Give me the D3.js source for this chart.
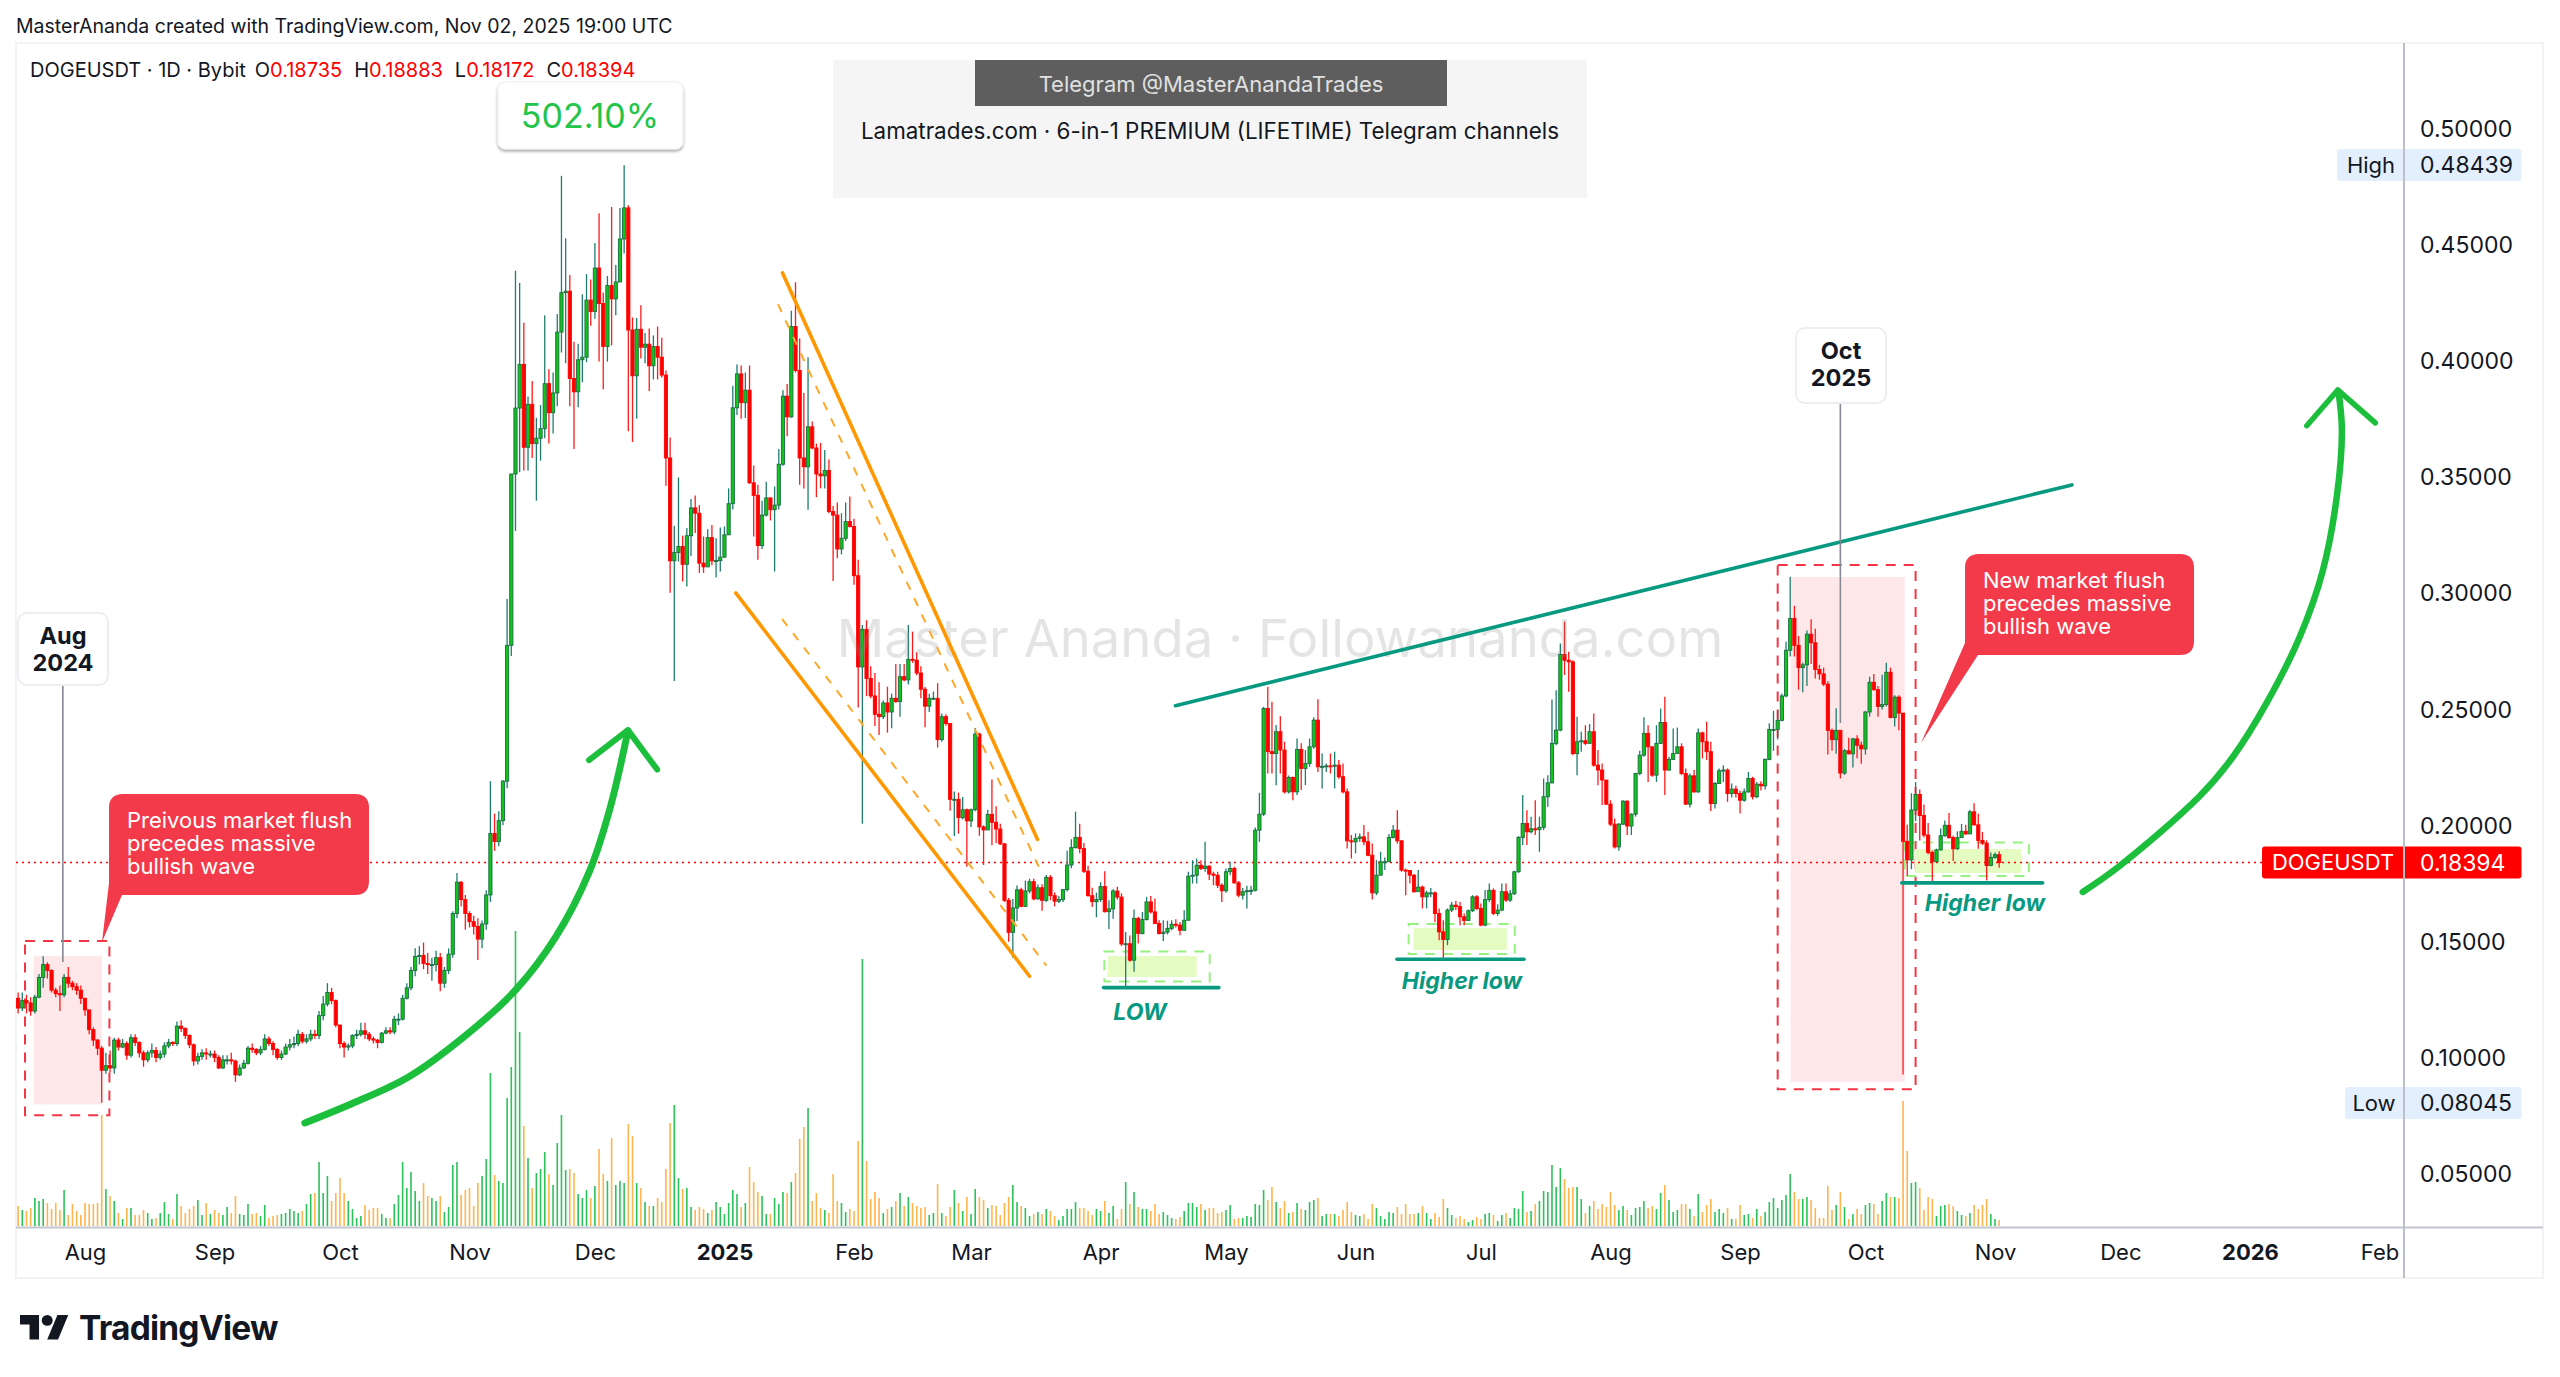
<!DOCTYPE html>
<html>
<head>
<meta charset="utf-8">
<title>DOGEUSDT</title>
<script src="https://cdnjs.cloudflare.com/ajax/libs/d3/7.9.0/d3.min.js"></script>
<style>
  html, body { margin: 0; padding: 0; background: #fff; }
  svg { display: block; }
  text { font-family: Inter, "Noto Sans", sans-serif; }
</style>
</head>
<body>
<div id="chart"></div>
<script>
// daily candles, one row per month, first candle is 2024-07-16
const firstDate = "2024-07-16";
const firstOpen = 0.1255;

const closes = [
  .1213,.1245,.1235,.1200,.1260,.1345,.1400,.1375,.1290,.1275,.1270,.1345,.1320,.1305,.1290,.1255,
  .1205,.1120,.1075,.1040,.0945,.0965,.0955,.1075,.1045,.1060,.1010,.1085,.1065,.1020,.0990,.1020,.1030,.1000,.1015,.1050,.1065,.1060,.1135,.1125,.1095,.1055,.0985,.1005,.1020,.1015,.1015,
  .1000,.0955,.0990,.0990,.0985,.0925,.0955,.0975,.1040,.1035,.1020,.1035,.1080,.1060,.1035,.1000,.1015,.1045,.1055,.1060,.1100,.1070,.1080,.1100,.1095,.1180,.1230,.1280,.1245,.1140,
  .1060,.1045,.1050,.1095,.1100,.1115,.1100,.1080,.1075,.1065,.1105,.1115,.1110,.1165,.1165,.1255,.1300,.1375,.1435,.1440,.1405,.1400,.1400,.1430,.1320,.1375,.1445,.1620,.1755,.1680,.1620,
  .1585,.1565,.1510,.1575,.1700,.1965,.1930,.2020,.2190,.2775,.3513,.3797,.3985,.3628,.3813,.3644,.3667,.3708,.3902,.3777,.3862,.4124,.4294,.4300,.3924,.3867,.4005,.4016,.4262,.4213,
  .4400,.4247,.4062,.4325,.4267,.4340,.4525,.4659,.4133,.3936,.4136,.4059,.4072,.3979,.4062,.4016,.3939,.3582,.3139,.3175,.3201,.3124,.3247,.3367,.3344,.3129,.3113,.3239,.3139,.3140,.3155,
  .3251,.3385,.3798,.3944,.3820,.3874,.3475,.3421,.3205,.3336,.3410,.3359,.3379,.3555,.3848,.3759,.4148,.3959,.3582,.3544,.3716,.3625,.3513,.3505,.3528,.3351,.3336,.3190,.3236,.3308,.3287,
  .3075,.2682,.2844,.2632,.2557,.2478,.2468,.2527,.2488,.2547,.2533,.2640,.2626,.2715,.2711,.2656,.2586,.2513,.2547,.2547,.2369,.2468,.2438,.2112,.2112,.2033,.2067,.2019,
  .2067,.2393,.1993,.1980,.2047,.2013,.1984,.1920,.1677,.1539,.1644,.1722,.1651,.1717,.1757,.1683,.1731,.1677,.1776,.1697,.1673,.1680,.1723,.1829,.1904,.1948,.1900,.1802,.1697,.1671,.1680,
  .1736,.1628,.1640,.1717,.1691,.1489,.1490,.1419,.1599,.1534,.1594,.1670,.1627,.1577,.1534,.1540,.1556,.1574,.1570,.1548,.1591,.1781,.1785,.1828,.1814,.1824,.1790,.1785,.1742,.1718,
  .1800,.1814,.1752,.1699,.1714,.1718,.1720,.1979,.2048,.2503,.2317,.2309,.2403,.2324,.2144,.2206,.2144,.2327,.2245,.2266,.2338,.2453,.2252,.2254,.2256,.2255,.2259,.2209,.2144,.1933,.1929,
  .1943,.1950,.1929,.1871,.1709,.1785,.1843,.1843,.1948,.1979,.1933,.1807,.1805,.1785,.1714,.1734,.1692,.1709,.1709,.1620,.1541,.1508,.1635,.1656,.1650,.1606,.1590,.1632,.1692,.1642,
  .1570,.1680,.1720,.1620,.1635,.1714,.1678,.1705,.1800,.1948,.2008,.1972,.1985,.1982,.1991,.2123,.2183,.2353,.2410,.2736,.2711,.2704,.2309,.2360,.2364,.2353,.2403,.2259,.2238,.2195,.2091,
  .2005,.1907,.2005,.2104,.1997,.2048,.2223,.2302,.2396,.2338,.2216,.2353,.2443,.2238,.2284,.2309,.2338,.2223,.2091,.2213,.2144,.2398,.2360,.2317,.2094,.2180,.2235,.2238,.2137,.2156,.2137,
  .2108,.2144,.2202,.2123,.2177,.2170,.2284,.2413,.2413,.2452,.2557,.2754,.2891,.2775,.2679,.2691,.2823,.2786,.2671,.2652,.2608,.2409,.2369,.2409,.2225,.2321,.2308,.2372,.2345,.2329,
  .2488,.2616,.2584,.2512,.2520,.2659,.2464,.2552,.2483,.1931,.1851,.2066,.2133,.2042,.1958,.1883,.1843,.1894,.1955,.2000,.1947,.1899,.1947,.1974,.1963,.2058,.2002,.1935,.1923,.1827,.1862,
  .18735,.18394
];

const highs = [
  .128,.128,.127,.126,.127,.136,.1436,.141,.138,.130,.131,.136,.139,.133,.132,.131,
  .125,.120,.113,.108,.105,.102,.103,.1085,.1085,.108,.107,.110,.110,.107,.103,.103,.106,.1045,.103,.1065,.108,.107,.1155,.116,.113,.110,.106,.102,.1035,.104,.103,
  .103,.101,.101,.101,.102,.099,.097,.099,.105,.106,.104,.105,.110,.109,.107,.104,.103,.106,.108,.109,.112,.111,.110,.112,.112,.120,.1265,.132,.130,.125,
  .114,.107,.106,.110,.112,.115,.115,.111,.109,.108,.111,.113,.113,.118,.119,.127,.132,.139,.147,.148,.1495,.145,.143,.146,.145,.139,.147,.163,.1795,.176,.170,
  .163,.161,.160,.159,.172,.219,.205,.206,.2195,.2975,.3513,.4388,.4336,.4164,.3847,.3913,.3755,.381,.4197,.3964,.395,.4202,.4797,.4528,.4370,.4082,.4074,.4287,.4374,.4351,
  .4508,.4636,.4293,.4366,.4663,.4413,.4659,.4843,.4670,.4187,.4185,.424,.412,.414,.411,.4148,.410,.3959,.367,.329,.3498,.3247,.328,.3405,.342,.3379,.3244,.3275,.3293,.3236,.3283,
  .3287,.3451,.3893,.3985,.3980,.395,.398,.355,.3467,.3398,.348,.3411,.3459,.3621,.3874,.39,.4216,.4339,.4097,.3862,.4016,.3739,.3644,.3647,.3616,.3575,.3375,.3390,.3344,.3390,.3416,
  .3320,.3144,.2863,.2883,.2685,.2656,.2616,.2537,.2597,.2567,.2695,.2695,.2695,.2863,.2834,.2745,.2685,.2596,.2567,.2576,.2612,.2482,.2478,.2438,.2146,.2141,.2122,.2072,
  .2072,.2419,.2399,.2000,.2067,.2197,.2082,.2007,.1924,.1687,.1683,.1741,.1731,.1762,.1770,.1770,.1745,.1746,.1786,.1786,.1711,.1695,.1725,.1890,.1940,.2059,.2007,.1924,.1826,.1731,.1710,
  .1755,.1802,.1677,.1726,.1735,.1707,.1540,.1525,.1637,.1606,.1627,.1692,.1695,.1685,.1591,.1591,.1589,.1591,.1595,.1584,.1634,.1800,.1850,.1857,.1850,.1929,.1828,.1800,.1800,.1750,
  .1814,.1843,.1821,.1760,.1730,.1740,.1740,.1990,.2140,.2510,.2597,.2532,.2432,.2470,.2360,.2215,.2210,.2374,.2353,.2324,.2374,.2465,.2543,.2309,.2266,.2309,.2317,.2281,.2266,.2159,.1958,
  .1965,.1965,.2001,.1972,.1922,.1850,.1886,.1861,.1962,.2001,.2065,.1936,.1814,.1807,.1790,.1807,.1740,.1718,.1730,.1715,.1642,.1591,.1642,.1670,.1675,.1670,.1620,.1637,.1699,.1699,
  .1663,.1721,.1749,.1728,.1660,.1749,.1749,.1721,.1804,.1953,.2130,.2065,.2037,.2108,.2037,.2202,.2216,.2542,.2582,.2783,.2877,.2747,.2711,.2467,.2403,.2431,.2436,.2482,.2324,.2266,.2195,
  .2108,.2029,.2010,.2108,.2108,.2052,.2226,.2321,.2465,.2431,.2338,.2431,.2503,.2554,.2295,.2417,.2421,.2353,.2245,.2223,.2238,.2417,.2403,.2446,.2360,.2187,.2245,.2259,.2245,.2180,.2170,
  .2150,.2159,.2230,.2209,.2187,.2190,.2288,.2439,.2493,.2496,.2568,.2791,.3070,.2945,.2815,.2700,.2839,.2887,.2847,.2691,.2679,.2620,.2417,.2504,.2409,.2329,.2377,.2377,.2388,.2361,
  .2493,.2640,.2652,.2600,.2648,.2700,.2679,.2560,.2560,.2483,.2002,.2138,.2186,.2154,.2090,.2010,.1891,.1899,.1986,.2021,.2053,.1955,.1974,.2006,.2002,.2066,.2095,.2050,.1971,.1935,.1883,
  .1883,.18883
];

const lows = [
  .119,.120,.119,.118,.119,.1255,.130,.134,.128,.126,.120,.126,.130,.129,.127,.123,
  .118,.110,.105,.101,.0805,.093,.0935,.093,.103,.104,.099,.100,.105,.100,.096,.098,.100,.098,.099,.100,.104,.105,.105,.111,.108,.104,.0965,.097,.099,.099,.100,
  .098,.095,.095,.097,.097,.0895,.092,.095,.097,.102,.101,.101,.103,.105,.101,.099,.099,.101,.103,.104,.105,.106,.106,.107,.108,.108,.116,.122,.123,.113,
  .104,.100,.103,.104,.108,.109,.108,.107,.106,.104,.106,.110,.110,.110,.114,.116,.125,.129,.135,.140,.138,.136,.133,.137,.1285,.130,.136,.143,.160,.165,.155,
  .156,.153,.142,.147,.155,.167,.189,.191,.200,.216,.2729,.3267,.352,.3528,.3528,.3582,.3398,.357,.3667,.3644,.3687,.3805,.4036,.399,.3805,.3621,.380,.3908,.3994,.4151,
  .4182,.3997,.3878,.3997,.4067,.4197,.4344,.4462,.3697,.3651,.3751,.4010,.399,.387,.392,.392,.3928,.3462,.3001,.2621,.3136,.305,.3028,.316,.3259,.3087,.3087,.3113,.312,.3067,.3093,
  .3152,.3251,.336,.3767,.3751,.3754,.3470,.3244,.3144,.3190,.3330,.3313,.3093,.3360,.3548,.3675,.3755,.3950,.3467,.345,.3359,.3620,.3413,.3451,.3451,.3344,.3052,.315,.3167,.3224,.3283,
  .3036,.2507,.2007,.2557,.2547,.2428,.2389,.2458,.2399,.2418,.2527,.2468,.2620,.2606,.2700,.2646,.2547,.2422,.2488,.2540,.2335,.2360,.2429,.2063,.1954,.1964,.2025,.1822,
  .1993,.2060,.1955,.1829,.1984,.1914,.1924,.1915,.1670,.1499,.1430,.1588,.1647,.1650,.1707,.1677,.1680,.1632,.1670,.1677,.1651,.1665,.1670,.1715,.1815,.1900,.1880,.1795,.1692,.1648,.1604,
  .1670,.1624,.1553,.1598,.1680,.1480,.1298,.1412,.1369,.1491,.1530,.1590,.1620,.1575,.1530,.1502,.1530,.1548,.1560,.1527,.1545,.1590,.1749,.1749,.1807,.1800,.1764,.1742,.1730,.1670,
  .1710,.1785,.1749,.1690,.1680,.1642,.1700,.1715,.1929,.2040,.2223,.2223,.2173,.2223,.2137,.2137,.2108,.2130,.2152,.2173,.2252,.2330,.2230,.2159,.2230,.2223,.2159,.2200,.2137,.1900,.1857,
  .1879,.1929,.1914,.1867,.1680,.1699,.1785,.1807,.1843,.1943,.1922,.1800,.1699,.1749,.1710,.1720,.1642,.1642,.1690,.1584,.1505,.1426,.1484,.1627,.1635,.1570,.1570,.1600,.1627,.1635,
  .1565,.1565,.1670,.1613,.1610,.1630,.1670,.1670,.1700,.1795,.1915,.1915,.1965,.1958,.1886,.1979,.2080,.2180,.2345,.2405,.2647,.2575,.2302,.2216,.2317,.2345,.2350,.2252,.2173,.2087,.2087,
  .1997,.1900,.1890,.2001,.1958,.1958,.2037,.2216,.2295,.2187,.2209,.2187,.2350,.2130,.2235,.2281,.2309,.2216,.2087,.2077,.2140,.2140,.2288,.2281,.2062,.2072,.2183,.2187,.2101,.2120,.2120,
  .2051,.2101,.2140,.2111,.2116,.2150,.2154,.2280,.2321,.2369,.2448,.2552,.2727,.2727,.2584,.2573,.2600,.2695,.2632,.2627,.2600,.2305,.2321,.2308,.2202,.2217,.2305,.2249,.2289,.2265,
  .2305,.2468,.2579,.2468,.2499,.2512,.2461,.2425,.2409,.0927,.1782,.1811,.2018,.1935,.1947,.1875,.1756,.1843,.1891,.1951,.1942,.1846,.1894,.1947,.1958,.1963,.1999,.1899,.1915,.1763,.1824,
  .1856,.18172
];

// volume read as bar height, no scale is shown on the chart
const volumes = [
  20,16,15,18,28,25,27,23,17,23,16,36,11,22,15,11,
  23,22,22,23,111,37,30,25,13,7,18,18,11,11,16,13,7,8,13,24,12,7,32,20,13,17,20,26,11,23,12,
  16,13,11,19,13,30,12,11,22,12,13,10,21,8,10,11,12,13,17,15,13,15,22,32,33,64,33,50,25,33,
  48,33,25,17,8,10,21,16,18,18,12,8,8,22,31,64,38,54,35,25,43,30,28,25,30,14,19,61,64,31,36,
  38,20,43,50,67,153,51,45,43,128,159,295,194,100,68,38,53,57,74,52,41,83,111,56,57,53,32,28,36,28,
  40,77,52,45,88,41,45,43,102,90,43,38,24,20,20,28,24,57,103,121,48,37,38,19,16,19,17,13,16,24,19,
  12,23,36,32,19,23,59,44,34,30,12,12,28,22,34,33,44,53,87,99,118,25,33,18,16,13,52,25,23,14,17,
  15,85,267,65,27,34,28,13,17,19,25,33,20,29,23,20,18,19,11,13,42,13,10,19,36,23,15,29,
  12,37,29,26,18,21,20,11,23,29,41,24,20,18,10,12,14,12,17,15,10,6,10,17,17,24,18,18,15,11,17,
  15,25,13,20,7,17,44,22,34,19,17,17,15,22,12,14,11,8,7,9,15,23,23,19,22,16,18,18,13,14,
  16,21,7,8,8,10,9,22,21,36,26,39,24,18,25,13,14,23,17,16,24,26,28,10,12,12,12,10,16,24,14,
  11,10,12,7,22,18,10,7,14,13,19,12,22,12,12,13,20,13,7,13,9,27,18,11,8,10,7,4,6,9,
  7,12,13,11,5,11,13,8,18,17,35,14,15,22,25,35,34,61,39,58,47,38,39,39,27,13,20,25,17,22,19,
  34,21,16,20,16,11,18,19,25,18,20,17,33,41,26,14,16,22,22,17,10,32,14,21,27,14,17,13,18,7,7,
  21,11,12,8,17,10,14,24,28,18,26,31,52,34,27,27,29,26,18,8,8,40,16,21,34,19,7,12,17,12,
  21,23,22,12,25,33,29,29,28,125,75,43,44,38,16,29,27,10,20,21,22,20,15,11,10,13,21,17,21,27,12,
  7,6
];

const priceTicks = [0.5, 0.45, 0.4, 0.35, 0.3, 0.25, 0.2, 0.15, 0.1, 0.05];
const timeTicks = [
  ["2024-08-01", "Aug"], ["2024-09-01", "Sep"], ["2024-10-01", "Oct"], ["2024-11-01", "Nov"],
  ["2024-12-01", "Dec"], ["2025-01-01", "2025"], ["2025-02-01", "Feb"], ["2025-03-01", "Mar"],
  ["2025-04-01", "Apr"], ["2025-05-01", "May"], ["2025-06-01", "Jun"], ["2025-07-01", "Jul"],
  ["2025-08-01", "Aug"], ["2025-09-01", "Sep"], ["2025-10-01", "Oct"], ["2025-11-01", "Nov"],
  ["2025-12-01", "Dec"], ["2026-01-01", "2026"], ["2026-02-01", "Feb"]
];

const lastPrice = 0.18394, highPrice = 0.48439, lowPrice = 0.08045;

// drawings on the chart as [day since 2024-08-01, price]
const channelTop = [[166.9, .4379], [227.9, .1939]];
const channelBottom = [[155.7, .3001], [226.0, .1350]];
const channelInnerTop = [[165.9, .4241], [228.1, .1825]];
const channelInnerBottom = [[166.9, .2886], [229.9, .1399]];
const trendLine = [[260.9, .2515], [475.4, .3466]];
const supports = [
  [[243.7, .1301], [271.3, .1301]],
  [[313.9, .1423], [344.3, .1423]],
  [[434.7, .1752], [468.4, .1752]]
];
const arrowOne = [[52.6, .0718], [64.2, .0804], [77.3, .0915], [90.4, .1085], [103.1, .1292], [112.6, .1518], [120.6, .1797], [125.6, .2072], [129.9, .2406]];
const arrowOneHead = [[120.6, .2281], [129.9, .2410], [136.9, .2240]];
const arrowTwo = [[478, .1713], [486.8, .1825], [506, .2126], [513.9, .2294], [522, .2527], [529.9, .2811], [535.4, .3095], [538.8, .3418], [540, .3702], [539.2, .3866]];
const arrowTwoHead = [[531.6, .3721], [539, .3875], [548, .3733]];
// zones as [day0, price0, day1, price1]
const redFills = [[-12.3, .1438, 4.04, .0798], [408.1, .3069, 435.4, .0895]];
const redFrames = [[-14.35, .1502, 5.84, .0751], [405, .3121, 438, .0863]];
const greenFills = [[244.7, .1437, 266, .1347], [317.9, .1558, 340.2, .1463], [437.8, .1898, 463.3, .1795]];
const greenFrames = [[243.9, .1456, 269.1, .1327], [316.7, .1575, 342.1, .1446], [435.4, .1926, 465.1, .1782]];

const W = 2560, H = 1377;
const paneLeft = 16, paneRight = 2543, paneTop = 43, paneBottom = 1278;
const axisX = 2404, volBase = 1226;

const dayOf = s => (Date.parse(s) - Date.parse("2024-08-01")) / 864e5;
const startDay = dayOf(firstDate);

const x = d3.scaleLinear().domain([0, 457]).range([85, 1995]);
const y = d3.scaleLinear().domain([0.5, 0.05]).range([128.7, 1173.6]);
const v = d3.scaleLinear().domain([0, 300]).range([volBase, volBase - 300]);

const candles = closes.map((c, i) => ({
  day: startDay + i,
  open: i ? closes[i - 1] : firstOpen,
  close: c,
  high: highs[i],
  low: lows[i],
  vol: volumes[i]
}));
candles.forEach(d => d.up = d.close >= d.open);

const svg = d3.select("#chart").append("svg").attr("width", W).attr("height", H);
svg.append("rect").attr("width", W).attr("height", H).attr("fill", "#fff");

// header above the pane
svg.append("text").attr("x", 16).attr("y", 33)
  .attr("font-size", 19.5).attr("fill", "#131722")
  .text("MasterAnanda created with TradingView.com, Nov 02, 2025 19:00 UTC");

// pane frame
svg.append("rect")
  .attr("x", paneLeft).attr("y", paneTop)
  .attr("width", paneRight - paneLeft).attr("height", paneBottom - paneTop)
  .attr("fill", "none").attr("stroke", "#f2f3f5").attr("stroke-width", 2);

// legend line
const legend = svg.append("text").attr("x", 30).attr("y", 77).attr("font-size", 20).attr("fill", "#131722");
legend.append("tspan").text("DOGEUSDT · 1D · Bybit");
[["O", "0.18735"], ["H", "0.18883"], ["L", "0.18172"], ["C", "0.18394"]].forEach((p, i) => {
  legend.append("tspan").attr("dx", i ? 12 : 9).text(p[0]);
  legend.append("tspan").attr("fill", "#ff0000").text(p[1]);
});

// telegram banner
svg.append("rect").attr("x", 833).attr("y", 60).attr("width", 754).attr("height", 138).attr("fill", "#f5f5f5");
svg.append("rect").attr("x", 975).attr("y", 60).attr("width", 472).attr("height", 46).attr("fill", "#5e5e5e");
svg.append("text").attr("x", 1211).attr("y", 92).attr("text-anchor", "middle")
  .attr("font-size", 22).attr("fill", "#e0e0e0").text("Telegram @MasterAnandaTrades");
svg.append("text").attr("x", 1210).attr("y", 139).attr("text-anchor", "middle")
  .attr("font-size", 22.4).attr("fill", "#131722").text("Lamatrades.com · 6-in-1 PREMIUM (LIFETIME) Telegram channels");

// zones go under the candles
const box = (g, list, fill, stroke) => g.selectAll(null).data(list).join("rect")
  .attr("x", d => x(d[0])).attr("y", d => y(d[1]))
  .attr("width", d => x(d[2]) - x(d[0])).attr("height", d => y(d[3]) - y(d[1]))
  .attr("fill", fill).attr("stroke", stroke)
  .attr("stroke-width", stroke === "none" ? 0 : 2)
  .attr("stroke-dasharray", stroke === "none" ? null : "10 8");

const zones = svg.append("g");
box(zones, redFills, "#fde7e9", "none");
box(zones, redFrames, "none", "#f23645");
box(zones, greenFills, "#e4fbc2", "none");
box(zones, greenFrames, "none", "#96f07f");

// volume
svg.append("g").selectAll("rect").data(candles).join("rect")
  .attr("x", d => x(d.day) - 0.8)
  .attr("y", d => v(d.vol))
  .attr("width", 1.6)
  .attr("height", d => volBase - v(d.vol))
  .attr("fill", d => d.up ? "#2cc25a" : "#ffb54d");

// last price line
svg.append("line")
  .attr("x1", paneLeft).attr("x2", 2262).attr("y1", y(lastPrice)).attr("y2", y(lastPrice))
  .attr("stroke", "#ff0000").attr("stroke-width", 1.5).attr("stroke-dasharray", "2 4");

// candles
const candle = svg.append("g").selectAll("g").data(candles).join("g");
candle.append("line")
  .attr("x1", d => x(d.day)).attr("x2", d => x(d.day))
  .attr("y1", d => y(d.high)).attr("y2", d => y(d.low))
  .attr("stroke", d => d.up ? "#1f7d6d" : "#ff1a1a").attr("stroke-width", 1.3);
candle.append("rect")
  .attr("x", d => x(d.day) - 1.6)
  .attr("y", d => y(Math.max(d.open, d.close)))
  .attr("width", 3.2)
  .attr("height", d => Math.max(1, Math.abs(y(d.open) - y(d.close))))
  .attr("fill", d => d.up ? "#10c41a" : "#ff0000")
  .attr("stroke", d => d.up ? "#1b6b45" : "#ff0000").attr("stroke-width", 0.9);

// watermark
svg.append("text").attr("x", 1280).attr("y", 657).attr("text-anchor", "middle")
  .attr("font-size", 52.6).attr("fill", "#8a8a8a").attr("opacity", 0.22)
  .text("Master Ananda · Followananda.com");

// trend lines
const straight = d3.line().x(d => x(d[0])).y(d => y(d[1]));
const smooth = d3.line().x(d => x(d[0])).y(d => y(d[1])).curve(d3.curveCatmullRom);
const stroke = (path, color, width, dash) => svg.append("path").attr("d", path)
  .attr("fill", "none").attr("stroke", color).attr("stroke-width", width)
  .attr("stroke-linecap", "round").attr("stroke-linejoin", "round")
  .attr("stroke-dasharray", dash || null);

stroke(straight(channelTop), "#ff9800", 3.6);
stroke(straight(channelBottom), "#ff9800", 3.6);
stroke(straight(channelInnerTop), "#ffa726", 2, "7 11");
stroke(straight(channelInnerBottom), "#ffa726", 2, "7 11");
stroke(straight(trendLine), "#089981", 3.6);
supports.forEach(s => stroke(straight(s), "#089981", 3.6));
stroke(smooth(arrowOne), "#1cbf3b", 7);
stroke(straight(arrowOneHead), "#1cbf3b", 6);
stroke(smooth(arrowTwo), "#1cbf3b", 6.5);
stroke(straight(arrowTwoHead), "#1cbf3b", 5.5);

// support labels
[["LOW", 1140, 1020], ["Higher low", 1462, 989], ["Higher low", 1985, 911]].forEach(t => {
  svg.append("text").attr("x", t[1]).attr("y", t[2]).attr("text-anchor", "middle")
    .attr("font-size", 23).attr("font-weight", 700).attr("font-style", "italic")
    .attr("fill", "#089981").text(t[0]);
});

// red callouts with a pointer, shape first then text
const callout = (rect, tip, lines) => {
  const [x0, y0, x1, y1] = rect, r = 14;
  svg.append("path").attr("fill", "#f33a4b").attr("d",
    `M${x0 + r},${y0} H${x1 - r} Q${x1},${y0} ${x1},${y0 + r} V${y1 - r} Q${x1},${y1} ${x1 - r},${y1}` +
    ` H${x0 + 13} L${tip[0]},${tip[1]} L${x0},${y1 - 12} V${y0 + r} Q${x0},${y0} ${x0 + r},${y0} Z`);
  lines.forEach((t, i) => {
    svg.append("text").attr("x", x0 + 18).attr("y", y0 + 34 + i * 23)
      .attr("font-size", 22).attr("fill", "#fff").text(t);
  });
};
callout([109, 794, 369, 895], [102, 942], ["Preivous market flush", "precedes massive", "bullish wave"]);
callout([1965, 554, 2194, 655], [1921, 743], ["New market flush", "precedes massive", "bullish wave"]);

// date flags with a stem down to the candle
const flag = (day, x0, x1, y0, y1, stemEnd, lines) => {
  svg.append("line").attr("x1", x(day)).attr("x2", x(day)).attr("y1", y1).attr("y2", stemEnd)
    .attr("stroke", "#868993").attr("stroke-width", 1.6);
  svg.append("rect").attr("x", x0).attr("y", y0).attr("width", x1 - x0).attr("height", y1 - y0).attr("rx", 9)
    .attr("fill", "#fff").attr("stroke", "#eceef2").attr("stroke-width", 2);
  lines.forEach((t, i) => {
    svg.append("text").attr("x", (x0 + x1) / 2).attr("y", y0 + 31 + i * 27).attr("text-anchor", "middle")
      .attr("font-size", 23.5).attr("font-weight", 700).attr("fill", "#131722").text(t);
  });
};
flag(-5.3, 18, 108, 613, 685, 962, ["Aug", "2024"]);
flag(420, 1796, 1886, 328, 403, 723, ["Oct", "2025"]);

// percent badge
const defs = svg.append("defs");
const shadow = defs.append("filter").attr("id", "shadow").attr("x", "-10%").attr("y", "-10%").attr("width", "120%").attr("height", "130%");
shadow.append("feDropShadow").attr("dx", 0).attr("dy", 2).attr("stdDeviation", 1.6).attr("flood-color", "#000").attr("flood-opacity", 0.35);
svg.append("rect").attr("x", 498).attr("y", 82).attr("width", 185).attr("height", 67).attr("rx", 7)
  .attr("fill", "#fff").attr("stroke", "#eceef2").attr("stroke-width", 1).attr("filter", "url(#shadow)");
svg.append("text").attr("x", 590).attr("y", 128).attr("text-anchor", "middle")
  .attr("font-size", 34).attr("fill", "#22c44a").text("502.10%");

// bottom border of the price area
svg.append("line").attr("x1", paneLeft).attr("x2", paneRight).attr("y1", 1227.5).attr("y2", 1227.5)
  .attr("stroke", "#c3c6ce").attr("stroke-width", 2);

// time axis
const timeAxis = d3.axisBottom(x)
  .tickValues(timeTicks.map(d => dayOf(d[0])))
  .tickFormat((d, i) => timeTicks[i][1])
  .tickSize(0).tickPadding(0);
const gTime = svg.append("g").attr("transform", "translate(0,1244)").call(timeAxis);
gTime.select(".domain").remove();
gTime.selectAll("text")
  .attr("font-size", 22).attr("fill", "#131722").attr("dy", "0.72em")
  .style("font-family", "Inter")
  .attr("font-weight", (d, i) => /^20/.test(timeTicks[i][1]) ? 700 : 400);

// price axis
const priceAxis = d3.axisRight(y).tickValues(priceTicks).tickFormat(d3.format(".5f")).tickSize(0).tickPadding(0);
const gPrice = svg.append("g").attr("transform", "translate(2420,0.5)").call(priceAxis);
gPrice.select(".domain").remove();
gPrice.selectAll("text").attr("font-size", 23).attr("fill", "#131722").style("font-family", "Inter");

// price tags over the axis
const tag = (price, left, fill, color, name, nameX) => {
  svg.append("rect").attr("x", left).attr("y", y(price) - 16).attr("width", 2521.5 - left).attr("height", 32)
    .attr("rx", 3).attr("fill", fill);
  svg.append("text").attr("x", nameX).attr("y", y(price)).attr("dy", "0.35em").attr("text-anchor", "middle")
    .attr("font-size", 22).attr("fill", color).text(name);
  svg.append("text").attr("x", 2420).attr("y", y(price)).attr("dy", "0.35em")
    .attr("font-size", 23).attr("fill", color).text(d3.format(".5f")(price));
};
tag(highPrice, 2337, "#e3effd", "#131722", "High", 2371);
tag(lowPrice, 2345, "#e3effd", "#131722", "Low", 2374);
tag(lastPrice, 2262, "#ff0000", "#ffffff", "DOGEUSDT", 2333);

svg.append("line").attr("x1", axisX).attr("x2", axisX).attr("y1", paneTop).attr("y2", paneBottom)
  .attr("stroke", "#bcc0c9").attr("stroke-width", 2);

// TradingView mark
svg.append("path").attr("transform", "translate(20,1309.5) scale(1.36)").attr("fill", "#131722")
  .attr("d", "M14 22H7V11H0V4h14v18zM28 22h-8l7.5-18h8L28 22z");
svg.append("circle").attr("cx", 20 + 20 * 1.36).attr("cy", 1309.5 + 8 * 1.36).attr("r", 4 * 1.36).attr("fill", "#131722");
svg.append("text").attr("x", 79).attr("y", 1340).attr("font-size", 33.5).attr("font-weight", 700)
  .attr("letter-spacing", -0.8).attr("fill", "#131722").text("TradingView");
</script>
</body>
</html>
